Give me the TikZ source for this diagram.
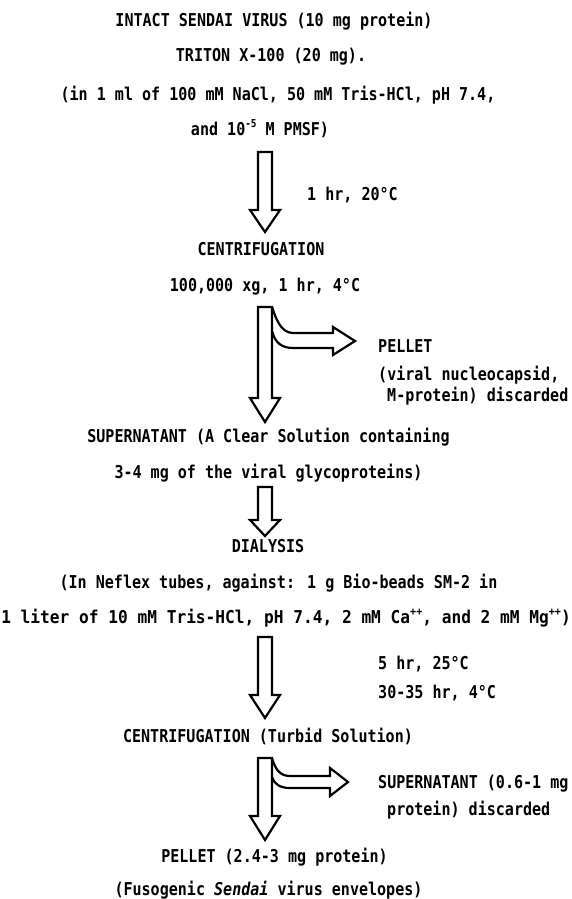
\documentclass[tikz,border=0pt]{standalone}
\usepackage{fontspec}
\setmainfont{DejaVu Sans Mono}[FakeStretch=0.85]
\usetikzlibrary{calc}

\tikzset{
  every node/.style={inner sep=0pt, font=\fontsize{17.7}{20}\selectfont\bfseries},
  line/.style={anchor=base},
  side/.style={anchor=base west},
  hollow/.style={draw=black, line width=2.2pt, line join=miter},
}

\newcommand\upidx[1]{\raisebox{0.45em}{\fontsize{11}{11}\selectfont #1}}

% hollow block arrow pointing down: [head length]{top}{tip}
\newcommand\hollowdown[3][22]{%
  \draw[hollow] ($(#2)+(-7,0)$) -- ($(#2)+(7,0)$) -- ($(#3)+(7,-#1)$) -- ($(#3)+(15,-#1)$)
    -- (#3) -- ($(#3)+(-15,-#1)$) -- ($(#3)+(-7,-#1)$) -- cycle;}

\begin{document}
\begin{tikzpicture}[x=1pt,y=-1pt]
\useasboundingbox (0,0) rectangle (572,899);

% texts
\node[line] (virus) at (274,27) {INTACT SENDAI VIRUS (10 mg protein)};
\node[line] (triton) at (271,62) {TRITON X-100 (20 mg).};
\node[line] (buffer) at (278,100) {(in 1 ml of 100 mM NaCl, 50 mM Tris-HCl, pH 7.4,};
\node[line] (pmsf) at (260,135) {and 10\upidx{-5} M PMSF)};
\node[side] (incub1) at (307,200) {1 hr, 20°C};
\node[line] (centrif1) at (261,255) {CENTRIFUGATION};
\node[line] (speed1) at (265,291) {100,000 xg, 1 hr, 4°C};
\node[side] (pellet1) at (378,352) {PELLET};
\node[side] (capsid1) at (378,380) {(viral nucleocapsid,};
\node[side] (mprot1) at (387,401) {M-protein) discarded};
\node[line] (super1) at (268.5,442) {SUPERNATANT (A Clear Solution containing};
\node[line] (glyco) at (268.5,478) {3-4 mg of the viral glycoproteins)};
\node[line] (dialysis) at (268,552) {DIALYSIS};
\node[line] (neflex) at (278.5,588) {(In Neflex tubes, against: 1 g Bio-beads SM-2 in};
\node[line] (liter) at (286,623) {\scalebox{1.075}[1]{1 liter of 10 mM Tris-HCl, pH 7.4, 2 mM Ca\upidx{++}, and 2 mM Mg\upidx{++})}};
\node[side] (incub2a) at (378,669) {5 hr, 25°C};
\node[side] (incub2b) at (378,698) {30-35 hr, 4°C};
\node[line] (centrif2) at (268,742) {CENTRIFUGATION (Turbid Solution)};
\node[side] (super2) at (378,788) {SUPERNATANT (0.6-1 mg};
\node[side] (discard2) at (387,815) {protein) discarded};
\node[line] (pellet2) at (274.5,862) {PELLET (2.4-3 mg protein)};
\node[line] (envelopes) at (268.5,895) {(Fusogenic {\itshape Sendai} virus envelopes)};

% arrow ends
\coordinate (a1top) at (265,152);
\coordinate (a1tip) at (265,232);
\coordinate (a2top) at (265,307);
\coordinate (a2tip) at (265,422);
\coordinate (b1tip) at (355,341);
\coordinate (a3top) at (265,487);
\coordinate (a3tip) at (265,536);
\coordinate (a4top) at (265,637);
\coordinate (a4tip) at (265,718);
\coordinate (a5top) at (265,758);
\coordinate (a5tip) at (265,840);
\coordinate (b2tip) at (348,782);

% down arrows
\hollowdown{a1top}{a1tip}
\hollowdown[24]{a2top}{a2tip}
\hollowdown[16]{a3top}{a3tip}
\hollowdown[23]{a4top}{a4tip}
\hollowdown[24]{a5top}{a5tip}

% side branches
\draw[hollow] ($(a2top)+(7,0)$) .. controls ($(a2top)+(11,12)$) and ($(a2top)+(16,26)$) .. ($(b1tip)+(-62,-8)$)
  -- ($(b1tip)+(-22,-8)$) -- ($(b1tip)+(-22,-14)$) -- (b1tip) -- ($(b1tip)+(-22,14)$) -- ($(b1tip)+(-22,7)$)
  -- ($(b1tip)+(-62,7)$) .. controls ($(b1tip)+(-73,7)$) and ($(b1tip)+(-80,2)$) .. ($(b1tip)+(-83,-10)$);
\draw[hollow] ($(a5top)+(7,0)$) .. controls ($(a5top)+(10,10)$) and ($(a5top)+(14,18)$) .. ($(b2tip)+(-58,-6)$)
  -- ($(b2tip)+(-18,-6)$) -- ($(b2tip)+(-18,-14)$) -- (b2tip) -- ($(b2tip)+(-18,14)$) -- ($(b2tip)+(-18,6)$)
  -- ($(b2tip)+(-58,6)$) .. controls ($(b2tip)+(-68,6)$) and ($(b2tip)+(-74,2)$) .. ($(b2tip)+(-76,-5)$);
\end{tikzpicture}
\end{document}
